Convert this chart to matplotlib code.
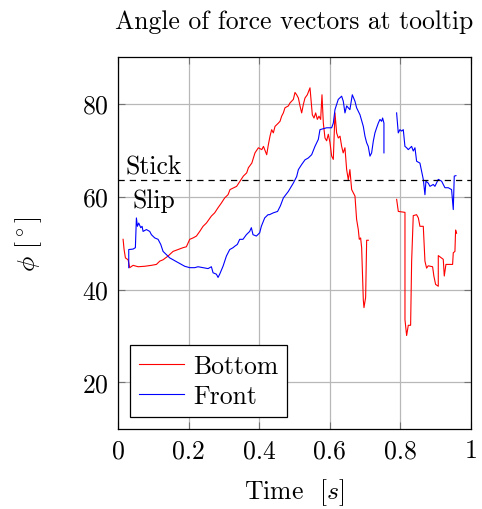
import matplotlib
matplotlib.use("Agg")
import matplotlib.pyplot as plt
import numpy as np

plt.rcParams["font.family"] = "serif"
plt.rcParams["font.serif"] = ["cmr10", "DejaVu Serif"]
plt.rcParams["mathtext.fontset"] = "cm"
plt.rcParams["axes.formatter.use_mathtext"] = True

nan = np.nan

# Bottom sensor angle (red)
bottom_t = [0.0142, 0.017, 0.0208, 0.0283, 0.033, 0.0425, 0.0567, 0.0755, 0.0944, 0.1086,
            0.118, 0.1275, 0.1416, 0.1558, 0.17, 0.184, 0.1936, 0.203, 0.2125, 0.222,
            0.2314, 0.2408, 0.2503, 0.2644, 0.2738, 0.2833, 0.2927, 0.302, 0.3116,
            0.3173, 0.336, 0.3456, 0.355, 0.3645, 0.3693, 0.379, 0.388, 0.3976, 0.4073,
            0.412, 0.4212, 0.426, 0.4306, 0.4353, 0.44, 0.4448, 0.4542, 0.459, 0.4636,
            0.4684, 0.473, 0.4825, 0.4873, 0.4967, 0.5014, 0.5061, 0.511, 0.5156, 0.5203,
            0.525, 0.5297, 0.5363, 0.5439, 0.5467, 0.5505, 0.5552, 0.56, 0.5647, 0.5694,
            0.5741, 0.5779, 0.5817, 0.5864, 0.5911, 0.5958, 0.6006, 0.6053, 0.61, 0.6147,
            0.6194, 0.6241, 0.629, 0.6336, 0.638, 0.643, 0.6478, 0.6525, 0.657, 0.662,
            0.6714, 0.676, 0.6808, 0.6836, 0.6874, 0.6903, 0.695, 0.6969, 0.7016, 0.7045,
            0.7092, 0.75,
            0.7895, 0.7942, 0.8131, 0.8131, 0.8178, 0.8225, 0.8291, 0.832, 0.8366, 0.846,
            0.851, 0.8555, 0.865, 0.8697, 0.8744, 0.879, 0.8914, 0.895, 0.8999, 0.9075,
            0.9075, 0.9216, 0.9245, 0.9292, 0.9481, 0.95, 0.9547, 0.9566, 0.9594]
bottom_phi = [50.8, 48.6, 46.8, 46.4, 44.7, 45.2, 44.9, 45.0, 45.2, 45.4,
              46.1, 46.4, 47.2, 48.2, 48.6, 49.0, 49.2, 50.8, 51.1, 51.5,
              52.5, 53.6, 54.3, 55.8, 56.5, 57.6, 58.6, 59.7, 60.4,
              61.5, 62.2, 63.3, 64.4, 65.1, 66.2, 67.2, 69.4, 70.5, 70.1,
              70.8, 69.0, 71.2, 73.0, 74.4, 73.7, 75.1, 75.8, 76.2, 77.3,
              78.0, 79.1, 79.5, 80.15, 80.9, 82.4, 81.9, 81.2, 79.5, 78.0,
              79.8, 81.2, 81.9, 83.4, 80.9, 77.6, 76.9, 78.0, 76.6, 77.3,
              76.6, 81.9, 75.8, 72.6, 72.0, 73.4, 71.6, 68.7, 68.0, 78.0,
              73.7, 72.6, 73.0, 70.8, 69.4, 70.5, 65.8, 63.6, 65.8, 61.5,
              60.1, 55.1, 52.9, 50.8, 51.1, 49.0, 37.8, 36.1, 38.3, 50.6,
              50.6, nan,
              59.4, 56.8, 56.6, 33.5, 30.1, 32.3, 32.3, 46.1, 55.9, 56.1,
              55.4, 53.6, 53.6, 46.1, 44.6, 45.1, 44.9, 42.9, 41.1, 40.7,
              47.3, 46.5, 42.9, 45.4, 45.4, 47.9, 48.2, 52.8, 52.1]

# Front sensor angle (blue)
front_t = [0.0302, 0.0302, 0.0425, 0.049, 0.0519, 0.0548, 0.0585, 0.0642, 0.068, 0.0708,
           0.0803, 0.0897, 0.0944, 0.1039, 0.1133, 0.1209, 0.1275, 0.137, 0.1464, 0.1605,
           0.1747, 0.1888, 0.203, 0.2172, 0.2266, 0.2408, 0.255, 0.2644, 0.2692, 0.2786,
           0.2833, 0.288, 0.2974, 0.307, 0.3164, 0.3258, 0.3305, 0.338, 0.3447, 0.354,
           0.3636, 0.373, 0.3777, 0.3824, 0.3919, 0.4013, 0.406, 0.4155, 0.425, 0.429,
           0.44, 0.452, 0.46, 0.4684, 0.4825, 0.4967, 0.5061, 0.511, 0.5203, 0.5297,
           0.539, 0.5486, 0.558, 0.5675, 0.5722, 0.5911, 0.6053, 0.61, 0.6147, 0.624,
           0.6336, 0.6383, 0.643, 0.6478, 0.657, 0.6638, 0.6714, 0.676, 0.6856, 0.695,
           0.6997, 0.7044, 0.709, 0.7139, 0.7186, 0.7233, 0.728, 0.7328, 0.7375, 0.7422,
           0.7469, 0.7497, 0.7535, 0.7535, 0.77,
           0.7894, 0.7941, 0.7988, 0.8036, 0.8083, 0.813, 0.8178, 0.8225, 0.8319, 0.8366,
           0.8414, 0.8461, 0.8555, 0.865, 0.8697, 0.8725, 0.879, 0.8839, 0.8933, 0.898,
           0.9075, 0.917, 0.9264, 0.9358, 0.9452, 0.95, 0.9528, 0.9575]
front_phi = [44.7, 48.6, 48.7, 49.0, 55.4, 53.6, 54.3, 53.3, 53.6, 52.5,
             52.9, 52.5, 51.8, 51.1, 50.8, 49.7, 48.2, 47.5, 46.8, 46.2,
             45.6, 45.0, 44.7, 44.7, 44.9, 44.7, 44.5, 44.9, 43.6, 43.3,
             42.6, 43.3, 45.0, 47.2, 48.6, 49.0, 49.3, 49.7, 50.8, 50.8,
             51.8, 52.5, 53.3, 51.8, 51.5, 52.2, 53.6, 55.4, 56.1, 56.1,
             56.5, 56.8, 58.0, 59.7, 61.1, 62.9, 64.3, 65.8, 66.9, 67.9,
             68.3, 69.0, 70.8, 72.3, 74.4, 74.8, 74.8, 75.8, 78.7, 80.9,
             81.6, 80.5, 78.0, 79.5, 78.7, 81.9, 80.5, 79.1, 77.6, 75.1,
             73.0, 71.6, 70.8, 68.7, 69.4, 71.9, 73.7, 74.8, 75.8, 76.6,
             76.2, 76.9, 75.8, 69.4, nan,
             78.0, 73.7, 74.4, 74.1, 74.4, 70.8, 70.5, 70.1, 70.8, 69.8,
             70.5, 67.6, 67.2, 63.7, 60.4, 63.3, 62.9, 62.2, 62.6, 62.2,
             63.7, 63.3, 61.9, 61.9, 61.5, 57.2, 64.4, 64.5]

stick_slip = 63.5
xticks = [0, 0.2, 0.4, 0.6, 0.8, 1]
xtick_labels = ["0", "0.2", "0.4", "0.6", "0.8", "1"]
yticks = [20, 40, 60, 80]

fs = 18.5
fig = plt.figure(figsize=(4.82, 5.1), dpi=100)
ax = fig.add_axes([0.245, 0.157, 0.732, 0.729])

ax.plot(bottom_t, bottom_phi, color="red", linewidth=0.8, label="Bottom")
ax.plot(front_t, front_phi, color="blue", linewidth=0.8, label="Front")
ax.axhline(stick_slip, color="black", linestyle=(0, (5, 4)), linewidth=0.9)
ax.text(0.022, 64.9, "Stick", fontsize=fs, ha="left", va="baseline")
ax.text(0.042, 61.8, "Slip", fontsize=fs, ha="left", va="top")

ax.set_xlim(0, 1)
ax.set_ylim(10, 90)
ax.set_xticks(xticks)
ax.set_xticklabels(xtick_labels)
ax.set_yticks(yticks)
ax.tick_params(labelsize=fs, direction="in", top=True, right=True,
               length=5, color="0.45", pad=7)
ax.grid(color="0.72", linewidth=0.9)
ax.set_axisbelow(True)
for s in ax.spines.values():
    s.set_linewidth(0.9)

ax.set_title("Angle of force vectors at tooltip", fontsize=fs, pad=21)
ax.set_xlabel(r"Time  $[s]$", fontsize=fs, labelpad=10)
ax.set_ylabel(r"$\phi$ $[^\circ]$", fontsize=fs, labelpad=27)

leg = ax.legend(loc="lower left", bbox_to_anchor=(0.034, 0.032), borderaxespad=0,
                fontsize=fs, fancybox=False, edgecolor="black", framealpha=1,
                handlelength=1.75, handletextpad=0.35, borderpad=0.35, labelspacing=0.25)
leg.get_frame().set_linewidth(0.9)

fig.savefig("out.png", dpi=100)
